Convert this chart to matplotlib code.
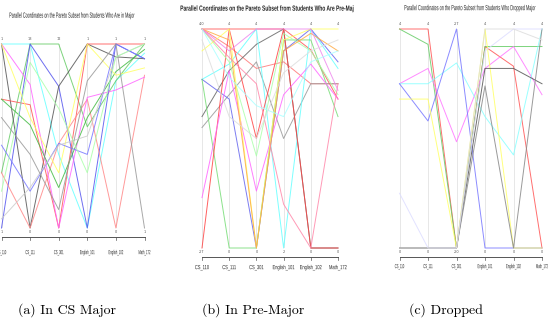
import matplotlib
matplotlib.use("Agg")
import matplotlib.pyplot as plt
from matplotlib.textpath import TextPath
from matplotlib.patches import PathPatch
from matplotlib.font_manager import FontProperties
from matplotlib.transforms import Affine2D

# course axes shared by the three panels
courses = ["CS_110", "CS_111", "CS_301", "English_101", "English_102", "Math_172"]

# panel (a): students in CS major, values scaled 0 (bottom) .. 1 (top)
major_top = ["1", "13", "12", "1", "1", "1"]
major_bot = ["1", "0", "0", "0", "0", "1"]
major_lines = [
    [1.00, 1.00, 0.40, 0.00, 0.80, 0.95],
    [0.30, 1.00, 1.00, 0.55, 0.80, 1.00],
    [0.00, 1.00, 0.77, 0.00, 1.00, 0.92],
    [1.00, 0.00, 0.77, 1.00, 0.93, 0.92],
    [0.70, 0.67, 0.00, 1.00, 1.00, 1.00],
    [0.30, 0.00, 0.46, 0.70, 0.00, 0.83],
    [1.00, 0.78, 0.00, 0.71, 0.75, 0.82],
    [0.70, 0.56, 0.22, 0.60, 0.85, 0.97],
    [1.00, 0.60, 0.30, 1.00, 0.83, 0.87],
    [0.45, 0.20, 0.46, 0.40, 1.00, 0.92],
    [0.05, 0.22, 0.45, 0.50, 0.93, 1.00],
    [0.60, 0.40, 0.10, 0.80, 1.00, 0.00],
    [0.20, 0.90, 0.65, 0.30, 0.93, 1.00],
]
major_cols = ["#66ffff", "#66cc66", "#5555ee", "#555555", "#ff5555", "#ff8888",
              "#ff66ff", "#44bb44", "#ffff66", "#7777ff", "#cccccc", "#999999",
              "#aaffaa"]

# panel (b): pre-major students
pre_top = ["4.0", "4", "4", "4", "4", "4"]
pre_bot = ["2.7", "0", "0", "2", "0", "0"]
pre_lines = [
    [1.00, 1.00, 1.00, 1.00, 0.905, 0.68],
    [1.00, 0.92, 0.82, 0.85, 0.75, 0.75],
    [0.60, 0.81, 0.93, 1.00, 0.00, 0.00],
    [0.55, 0.70, 0.85, 0.50, 0.75, 0.75],
    [0.77, 0.84, 1.00, 0.00, 1.00, 0.82],
    [0.77, 0.68, 0.00, 0.90, 1.00, 0.85],
    [0.77, 0.00, 0.00, 0.95, 0.95, 0.60],
    [0.00, 1.00, 0.50, 1.00, 0.00, 0.00],
    [1.00, 0.85, 0.42, 0.98, 0.90, 0.70],
    [0.23, 0.81, 0.26, 0.70, 0.84, 0.68],
    [0.90, 1.00, 0.00, 0.95, 1.00, 1.00],
    [1.00, 0.95, 0.00, 0.90, 0.98, 0.90],
    [1.00, 0.87, 0.75, 0.20, 0.00, 0.75],
    [1.00, 0.90, 1.00, 1.00, 1.00, 0.72],
    [1.00, 0.78, 0.65, 0.60, 0.85, 0.90],
    [0.95, 0.60, 0.50, 0.80, 0.90, 0.95],
]
pre_cols = ["#ff5555", "#ff7777", "#666666", "#999999", "#66ffff", "#6666ee",
            "#77dd77", "#ff4444", "#aaffaa", "#ff66ff", "#ffff66", "#ffaa44",
            "#ff88aa", "#ee88ee", "#aaffff", "#dddddd"]

# panel (c): dropped students
drop_top = ["4", "4", "2.7", "4", "4", "4"]
drop_bot = ["0", "0", "2.0", "0", "0", "0"]
drop_lines = [
    [1.00, 1.00, 0.00, 0.92, 0.83, 0.00],
    [1.00, 0.93, 0.00, 0.92, 0.92, 0.92],
    [0.75, 0.82, 0.485, 0.82, 0.92, 0.70],
    [0.75, 0.75, 0.845, 0.60, 0.425, 1.00],
    [0.75, 0.58, 1.00, 0.00, 0.00, 0.00],
    [0.68, 0.68, 0.00, 1.00, 0.00, 0.00],
    [0.00, 0.00, 0.00, 0.82, 0.82, 0.75],
    [0.00, 0.00, 0.00, 0.74, 0.00, 1.00],
    [0.25, 0.00, 0.00, 0.90, 1.00, 1.00],
    [0.00, 0.00, 0.00, 1.00, 1.00, 0.95],
]
drop_cols = ["#ff5555", "#66cc66", "#ff77ff", "#88ffff", "#7777ff", "#ffff66",
             "#555555", "#888888", "#ddddff", "#dddddd"]

W, H = 548, 327

fig = plt.figure(figsize=(W / 100, H / 100), dpi=100)


def squeezed(text, cx, cy, sx, sy, weight="normal", color="#222222", width=None):
    # condensed text drawn as a path, (cx, cy) = centre in pixels from top-left
    tp = TextPath((0, 0), text, size=10,
                  prop=FontProperties(family="Liberation Sans", weight=weight))
    bb = tp.get_extents()
    if width is not None:
        sx = width / bb.width
    tr = (Affine2D().translate(-bb.x0 - bb.width / 2, -3.6)
          .scale(sx, sy).translate(cx, H - cy))
    fig.add_artist(PathPatch(tp, transform=tr, facecolor=color, edgecolor="none"))


def panel(lines, cols, top, bot, x0, x5, ptop, pbot, line_y, name_y,
          title, title_x, title_y, title_w, bold, name_sx):
    ax = fig.add_axes([x0 / W, 1 - pbot / H, (x5 - x0) / W, (pbot - ptop) / H])
    ax.set_xlim(0, 5)
    ax.set_ylim(0, 1)
    ax.axis("off")
    span = pbot - ptop
    xs = list(range(len(courses)))
    for i in xs:
        ax.plot([i, i], [0, 1], color="#dddddd", lw=0.5, zorder=0)
    for vals, c in zip(lines, cols):
        ax.plot(xs, vals, color=c, lw=0.7, alpha=0.85, clip_on=False)
    # value labels at both ends of each axis
    for i in xs:
        ax.text(i, 1 + 3 / span, top[i], fontsize=2.5, ha="center", va="bottom",
                color="#555555", clip_on=False)
        ax.text(i, -2 / span, bot[i], fontsize=2.5, ha="center", va="top",
                color="#555555", clip_on=False)
    # bottom axis with ticks
    ly = (pbot - line_y) / span
    ax.plot([0, 5], [ly, ly], color="#555555", lw=0.7, clip_on=False)
    for i in xs:
        ax.plot([i, i], [ly, ly - 3 / span], color="#555555", lw=0.5, clip_on=False)
    step = (x5 - x0) / 5
    for i in xs:
        squeezed(courses[i], x0 + i * step, name_y, name_sx, 0.6)
    squeezed(title, title_x, title_y, 0, 0.75,
             weight="bold" if bold else "normal", width=title_w)


panel(major_lines, major_cols, major_top, major_bot, 1.5, 144.5, 44, 228, 237, 252,
      "Parallel Coordinates on the Pareto Subset from Students Who Are in Major",
      72, 15, 125, False, 0.27)
panel(pre_lines, pre_cols, pre_top, pre_bot, 202, 338, 29, 248, 257, 267,
      "Parallel Coordinates on the Pareto Subset from Students Who Are Pre-Maj",
      267, 8, 173, True, 0.4)
panel(drop_lines, drop_cols, drop_top, drop_bot, 399.5, 542, 29, 248, 257, 266,
      "Parallel Coordinates on the Pareto Subset from Students Who Dropped Major",
      470, 7.5, 131, False, 0.27)

for label, cx in [("(a) In CS Major", 67), ("(b) In Pre-Major", 253), ("(c) Dropped", 446)]:
    fig.text(cx / W, 1 - 310 / H, label, fontsize=10, family="cmr10",
             ha="center", va="center")

fig.savefig("out.png", dpi=100, facecolor="white")
